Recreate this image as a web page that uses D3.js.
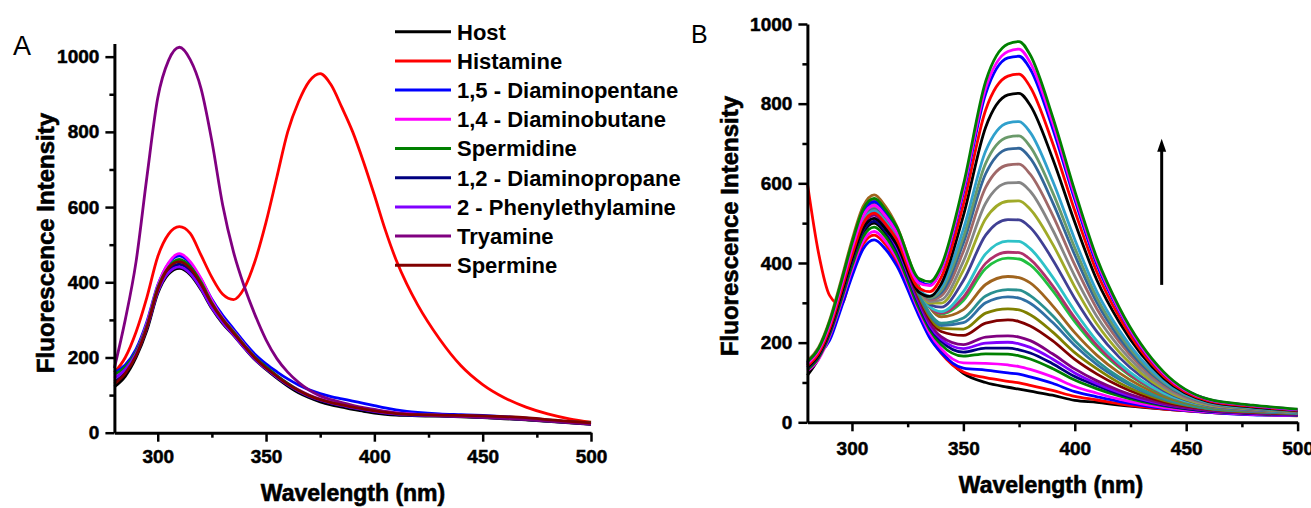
<!DOCTYPE html>
<html>
<head>
<meta charset="utf-8">
<title>Fluorescence spectra</title>
<style>
  body { margin: 0; background: #fff; }
  svg { display: block; }
  text { font-family: "Liberation Sans", Arial, sans-serif; fill: #000; }
  .axis path, .axis line { stroke: #000; }
  .axis path { stroke-width: 3; }
  .axis line { stroke-width: 2.5; }
  .axis text { font-size: 19px; font-weight: bold; font-family: "Liberation Sans", Arial, sans-serif; stroke: #000; stroke-width: 0.5px; }
  .title { font-weight: bold; stroke: #000; stroke-width: 0.6px; }
  .curve { fill: none; stroke-width: 2.8; stroke-linejoin: round; }
</style>
</head>
<body>
<svg id="chart" width="1311" height="508"></svg>
<script src="https://cdn.jsdelivr.net/npm/d3@7/dist/d3.min.js"></script>
<script>

// ---- panel A : host + analytes ----
var wavelengthA = [280,285,290,295,300,305,310,315,320,325,330,335,340,345,350,355,360,365,370,375,380,385,390,395,400,405,410,415,420,430,440,450,460,470,480,490,500];

var analyteNames  = ["Host", "Histamine", "1,5 - Diaminopentane", "1,4 - Diaminobutane", "Spermidine",
                     "1,2 - Diaminopropane", "2 - Phenylethylamine", "Tryamine", "Spermine"];
var analyteColors = ["#000000", "#ff0000", "#0000ff", "#ff00ff", "#008000", "#000080", "#8000ff", "#800080", "#800000"];

var host         = [122,150,200,272,370,422,437,420,380,330,290,259,225,193,168,145,124,106,93,82,74,68,62,57,52,49,47,46,45,44,42,40,37,34,30,26,22];
var histamine    = [160,200,268,360,468,528,548,530,472,413,368,354,385,458,560,680,800,880,935,955,925,865,800,720,632,540,460,395,340,250,178,128,93,68,50,37,28];
var diaminopent  = [160,180,222,295,392,450,470,450,408,355,312,276,240,208,183,162,143,127,114,104,96,90,84,78,72,66,61,57,54,50,48,46,43,39,34,29,25];
var diaminobut   = [145,170,215,290,390,452,476,455,410,352,305,270,234,200,174,151,131,114,100,90,82,76,70,65,60,56,53,51,49,47,45,43,40,36,32,28,24];
var spermidine   = [155,175,215,285,385,440,461,442,400,345,302,268,232,200,175,152,131,113,99,88,80,74,68,63,58,54,51,49,48,46,44,42,39,35,31,29,27];
var diaminoprop  = [135,160,205,278,375,430,448,430,388,336,296,262,228,196,171,148,127,110,96,86,78,72,66,61,56,52,49,47,46,45,43,41,38,35,31,27,23];
var phenylethyl  = [145,168,210,280,375,426,441,423,383,332,293,260,226,195,170,148,128,111,97,87,79,73,67,62,57,53,50,48,47,46,44,42,40,37,33,29,25];
var tyramine     = [172,300,455,680,890,990,1025,992,915,775,605,480,388,312,247,197,161,134,113,98,88,80,73,67,62,57,53,50,48,45,43,41,38,35,31,27,23];
var spermine     = [130,158,205,280,380,438,455,437,395,342,300,265,230,198,172,150,129,112,98,88,80,74,68,63,58,54,51,49,48,47,46,45,43,40,35,30,26];

var seriesA = [host, histamine, diaminopent, diaminobut, spermidine, diaminoprop, phenylethyl, tyramine, spermine];

// ---- panel B : titration with histamine ----
var wavelengthB = [280,285,290,295,300,305,310,315,320,330,335,340,350,360,370,375,380,390,400,410,420,440,460,480,500];

var titrationColors = ["#000000","#ff0000","#0000ff","#ff00ff","#008000","#000080","#8000ff","#800080","#800000","#808000",
                       "#3070a4","#2a9090","#a0641e","#20c040","#b0306c","#2ec2c8","#404094","#a0aa28","#858585","#a06868",
                       "#336699","#6a9a6a","#30a0cc","#000000","#ff0000","#0000ff","#ff00ff","#008000"];

var titration = [
  [118,160,225,310,400,475,500,475,430,290,225,180,123,100,88,83,78,68,55,50,43,33,25,20,18],
  [600,425,318,295,376,447,470,447,404,274,214,174,126,112,103,99,93,80,65,56,46,33,25,20,16],
  [150,170,206,284,366,435,458,435,394,268,211,175,136,131,124,121,114,98,77,64,52,35,25,19,17],
  [129,158,216,297,383,455,479,455,413,280,223,185,149,148,144,140,133,114,90,73,58,37,26,20,18],
  [132,162,221,304,392,466,490,466,422,287,231,195,166,172,171,167,159,135,106,84,66,41,28,22,18],
  [136,167,227,313,404,480,505,480,435,297,238,204,176,186,186,182,174,147,115,92,71,43,28,22,19],
  [138,169,230,317,410,486,512,486,441,302,243,209,185,199,201,197,188,159,124,97,75,45,30,23,20],
  [140,172,234,322,416,494,520,494,448,307,249,215,195,214,217,214,205,172,134,104,80,47,30,24,20],
  [143,175,239,329,424,504,530,504,458,314,258,228,218,249,257,253,242,205,158,121,91,51,33,25,21],
  [144,177,241,332,428,508,535,508,462,318,264,236,234,274,285,282,270,227,175,134,99,55,34,26,22],
  [146,178,243,335,432,513,540,513,466,322,269,243,250,300,315,312,299,251,193,145,108,58,35,27,22],
  [147,180,245,338,436,518,545,518,471,326,273,249,262,317,333,332,318,268,205,154,113,60,35,28,23],
  [154,188,257,354,457,542,571,542,494,342,288,265,283,346,366,363,350,293,225,168,124,65,38,29,24],
  [151,185,252,347,448,532,560,532,485,338,289,272,306,386,412,410,395,331,253,187,137,69,39,30,25],
  [150,183,250,344,444,527,555,527,480,335,289,274,314,399,427,426,409,343,262,193,140,71,40,30,24],
  [149,182,248,341,440,523,550,523,477,334,290,278,328,423,455,454,436,365,279,204,148,73,41,31,24],
  [148,181,247,340,438,521,548,521,475,335,296,289,356,470,509,508,489,409,311,227,163,79,42,32,25],
  [147,180,245,338,436,518,545,518,474,335,299,299,382,511,555,556,535,448,340,246,176,83,43,33,26],
  [146,178,243,335,432,513,540,513,469,334,303,307,404,550,601,602,580,484,367,265,189,88,45,34,27],
  [145,178,242,334,430,511,538,511,469,334,307,317,429,590,646,648,623,521,395,284,202,93,47,35,27],
  [144,177,241,332,428,508,535,508,466,334,311,325,450,624,686,688,663,553,420,300,212,97,48,35,28],
  [144,176,239,330,426,505,532,505,464,334,312,331,465,650,716,719,692,578,438,312,221,100,49,36,28],
  [143,175,239,329,424,504,530,504,463,334,317,338,485,681,752,755,728,607,459,327,231,103,50,37,29],
  [138,169,230,317,410,486,512,486,447,327,316,347,519,741,822,826,796,663,502,356,251,110,52,38,29],
  [142,173,236,326,420,499,525,499,460,337,328,363,547,784,869,874,842,702,531,376,264,115,54,40,30],
  [150,183,249,343,443,526,554,526,484,354,345,382,576,825,915,919,887,739,559,395,278,121,57,42,31],
  [147,180,245,338,436,518,545,518,477,350,343,383,584,839,931,937,903,753,569,403,282,122,57,42,32],
  [152,185,253,348,450,534,562,534,492,361,353,392,596,856,950,956,922,768,581,411,288,126,58,43,33]
];

// arrow in panel B (data units)
var arrowNm = 439, arrowFrom = 345, arrowTo = 712;

var xTicks = [300, 350, 400, 450, 500], xMinor = [325, 375, 425, 475];
var yTicks = [0, 200, 400, 600, 800, 1000], yMinor = [100, 300, 500, 700, 900];

var svg = d3.select("#chart");

// scales
var xA = d3.scaleLinear().domain([280, 500]).range([114.4, 591]);
var yA = d3.scaleLinear().domain([0, 1035]).range([432.7, 43.5]);
var xB = d3.scaleLinear().domain([280, 500]).range([807.4, 1297.6]);
var yB = d3.scaleLinear().domain([0, 1000]).range([422.3, 24]);

function drawAxes(x, y, xPad) {
  var y0 = y.range()[0], x0 = x.range()[0];

  svg.append("g").attr("class", "axis")
     .attr("transform", "translate(0," + y0 + ")")
     .call(d3.axisBottom(x).tickValues(xTicks).tickSize(9).tickSizeOuter(0).tickPadding(xPad).tickFormat(d3.format("d")));
  svg.append("g").attr("class", "axis")
     .attr("transform", "translate(0," + y0 + ")")
     .call(d3.axisBottom(x).tickValues(xMinor).tickSize(5).tickSizeOuter(0).tickFormat(""))
     .call(function(g) { g.select(".domain").remove(); });

  svg.append("g").attr("class", "axis")
     .attr("transform", "translate(" + x0 + ",0)")
     .call(d3.axisLeft(y).tickValues(yTicks).tickSize(9).tickSizeOuter(0).tickPadding(6).tickFormat(d3.format("d")));
  svg.append("g").attr("class", "axis")
     .attr("transform", "translate(" + x0 + ",0)")
     .call(d3.axisLeft(y).tickValues(yMinor).tickSize(5).tickSizeOuter(0).tickFormat(""))
     .call(function(g) { g.select(".domain").remove(); });
}

function drawCurves(wl, series, colors, x, y) {
  var line = d3.line()
      .x(function(d, i) { return x(wl[i]); })
      .y(function(d) { return y(d); })
      .curve(d3.curveMonotoneX);
  svg.append("g").selectAll("path")
     .data(series)
     .enter().append("path")
       .attr("class", "curve")
       .attr("stroke", function(d, i) { return colors[i]; })
       .attr("d", line);
}

// panel A
drawCurves(wavelengthA, seriesA, analyteColors, xA, yA);
drawAxes(xA, yA, 8);

// panel B
drawCurves(wavelengthB, titration, titrationColors, xB, yB);
drawAxes(xB, yB, 10);

// arrow
svg.append("line")
   .attr("x1", xB(arrowNm)).attr("x2", xB(arrowNm))
   .attr("y1", yB(arrowFrom)).attr("y2", yB(arrowTo) + 10)
   .attr("stroke", "#000").attr("stroke-width", 3);
svg.append("path")
   .attr("d", "M" + xB(arrowNm) + "," + yB(arrowTo) +
              "L" + (xB(arrowNm) + 4.5) + "," + (yB(arrowTo) + 13) +
              "L" + (xB(arrowNm) - 4.5) + "," + (yB(arrowTo) + 13) + "Z")
   .attr("fill", "#000");

// legend (panel A)
var legend = svg.append("g").attr("transform", "translate(395,31.7)");
var rows = legend.selectAll("g")
    .data(analyteNames)
    .enter().append("g")
      .attr("transform", function(d, i) { return "translate(0," + (i * 29.2) + ")"; });
rows.append("line")
    .attr("x1", 0).attr("x2", 56)
    .attr("stroke", function(d, i) { return analyteColors[i]; })
    .attr("stroke-width", 3);
rows.append("text")
    .attr("x", 62).attr("dy", "0.36em")
    .style("font-size", "22px").style("font-weight", "bold")
    .text(function(d) { return d; });

// axis titles
function yTitle(cx, cy) {
  svg.append("text")
     .attr("class", "title")
     .attr("transform", "translate(" + cx + "," + cy + ") rotate(-90)")
     .attr("text-anchor", "middle").attr("dy", "0.36em")
     .style("font-size", "24px")
     .text("Fluorescence Intensity");
}
function xTitle(cx, by) {
  svg.append("text")
     .attr("class", "title")
     .attr("x", cx).attr("y", by)
     .attr("text-anchor", "middle")
     .style("font-size", "23px")
     .text("Wavelength (nm)");
}
yTitle(45, 243);
yTitle(729, 226);
xTitle(353, 501);
xTitle(1051, 493);

// panel letters
svg.append("text").attr("x", 13).attr("y", 55).style("font-size", "27px").text("A");
svg.append("text").attr("x", 691).attr("y", 43).style("font-size", "25px").text("B");

</script>
</body>
</html>
